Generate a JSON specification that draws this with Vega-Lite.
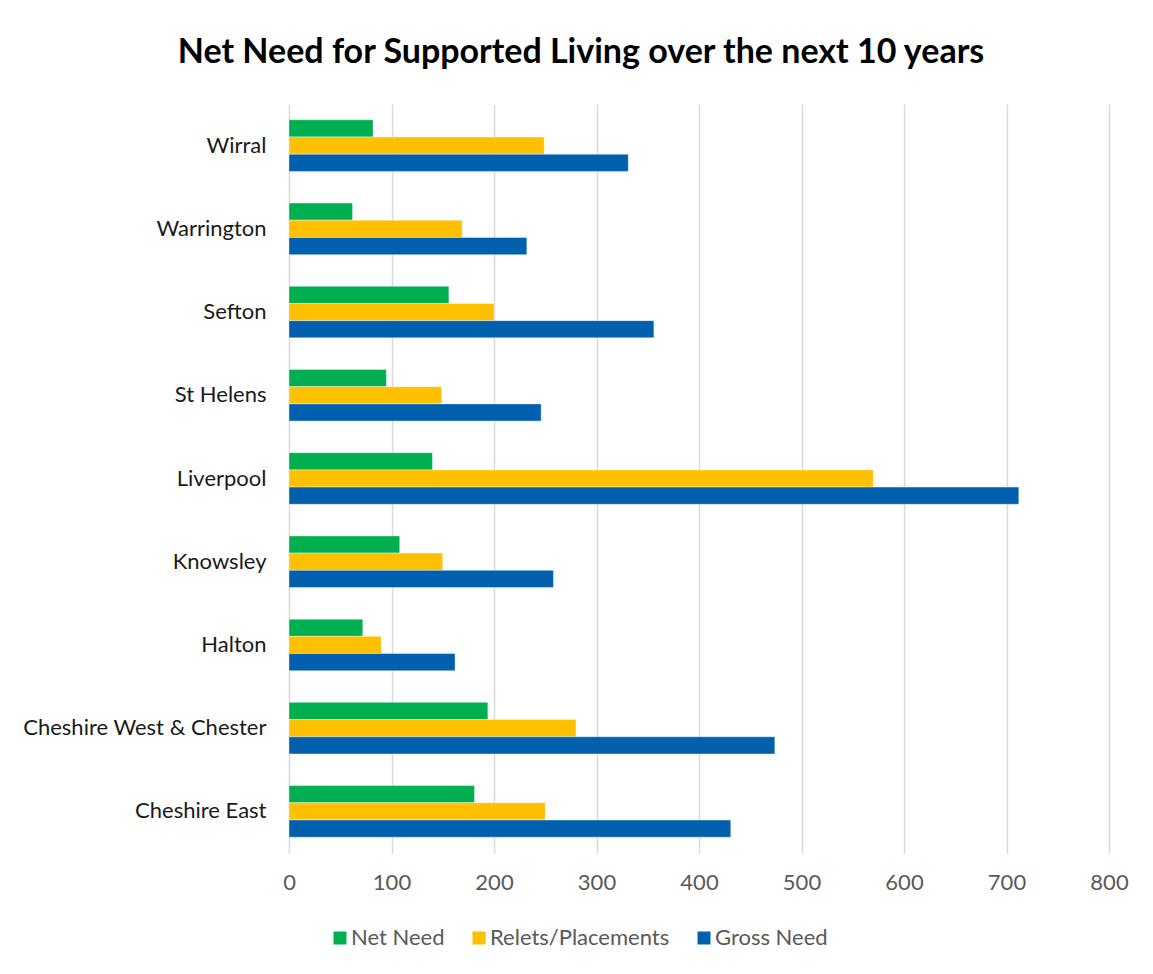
{
  "$schema": "https://vega.github.io/schema/vega-lite/v6.json",
  "autosize": {"type": "none"},
  "width": 820,
  "height": 749,
  "padding": {"left": 289, "top": 104, "right": 44, "bottom": 121},
  "background": "white",
  "title": {
    "text": "Net Need for Supported Living over the next 10 years",
    "fontSize": 34,
    "font": "Lato",
    "fontWeight": "bold",
    "color": "#000000",
    "anchor": "middle",
    "dx": -118,
    "offset": 34
  },
  "data": {
    "values": [
      {"area": "Wirral", "series": "Net Need", "value": 82},
      {"area": "Wirral", "series": "Relets/Placements", "value": 249},
      {"area": "Wirral", "series": "Gross Need", "value": 331},
      {"area": "Warrington", "series": "Net Need", "value": 62},
      {"area": "Warrington", "series": "Relets/Placements", "value": 169},
      {"area": "Warrington", "series": "Gross Need", "value": 232},
      {"area": "Sefton", "series": "Net Need", "value": 156},
      {"area": "Sefton", "series": "Relets/Placements", "value": 200},
      {"area": "Sefton", "series": "Gross Need", "value": 356},
      {"area": "St Helens", "series": "Net Need", "value": 95},
      {"area": "St Helens", "series": "Relets/Placements", "value": 149},
      {"area": "St Helens", "series": "Gross Need", "value": 246},
      {"area": "Liverpool", "series": "Net Need", "value": 140},
      {"area": "Liverpool", "series": "Relets/Placements", "value": 570},
      {"area": "Liverpool", "series": "Gross Need", "value": 712},
      {"area": "Knowsley", "series": "Net Need", "value": 108},
      {"area": "Knowsley", "series": "Relets/Placements", "value": 150},
      {"area": "Knowsley", "series": "Gross Need", "value": 258},
      {"area": "Halton", "series": "Net Need", "value": 72},
      {"area": "Halton", "series": "Relets/Placements", "value": 90},
      {"area": "Halton", "series": "Gross Need", "value": 162},
      {"area": "Cheshire West & Chester", "series": "Net Need", "value": 194},
      {"area": "Cheshire West & Chester", "series": "Relets/Placements", "value": 280},
      {"area": "Cheshire West & Chester", "series": "Gross Need", "value": 474},
      {"area": "Cheshire East", "series": "Net Need", "value": 181},
      {"area": "Cheshire East", "series": "Relets/Placements", "value": 250},
      {"area": "Cheshire East", "series": "Gross Need", "value": 431}
    ]
  },
  "mark": {"type": "bar", "stroke": "white", "strokeOpacity": 0.4, "strokeWidth": 1},
  "encoding": {
    "y": {
      "field": "area",
      "type": "nominal",
      "sort": ["Wirral", "Warrington", "Sefton", "St Helens", "Liverpool", "Knowsley", "Halton", "Cheshire West & Chester", "Cheshire East"],
      "scale": {"paddingInner": 0.38, "paddingOuter": 0.19},
      "axis": {
        "title": null,
        "domain": false,
        "ticks": false,
        "labelFont": "Lato",
        "labelFontSize": 22,
        "labelColor": "#1a1a1a",
        "labelPadding": 23,
        "labelLimit": 400
      }
    },
    "yOffset": {
      "field": "series",
      "type": "nominal",
      "sort": ["Net Need", "Relets/Placements", "Gross Need"],
      "scale": {"paddingInner": 0, "paddingOuter": 0}
    },
    "x": {
      "field": "value",
      "type": "quantitative",
      "scale": {"domain": [0, 800], "nice": false},
      "axis": {
        "title": null,
        "values": [0, 100, 200, 300, 400, 500, 600, 700, 800],
        "domain": false,
        "ticks": false,
        "grid": true,
        "gridColor": "#d9d9d9",
        "gridWidth": 1.5,
        "labelFont": "Lato",
        "labelFontSize": 22,
        "labelColor": "#595959",
        "labelPadding": 19,
        "labelFlush": false
      }
    },
    "color": {
      "field": "series",
      "type": "nominal",
      "sort": ["Net Need", "Relets/Placements", "Gross Need"],
      "scale": {
        "domain": ["Net Need", "Relets/Placements", "Gross Need"],
        "range": ["#00B050", "#FFC000", "#0060AD"]
      },
      "legend": {
        "title": null,
        "orient": "none",
        "direction": "horizontal",
        "legendX": 40,
        "legendY": 823,
        "symbolType": "square",
        "symbolSize": 169,
        "symbolStrokeWidth": 0,
        "symbolOpacity": 1,
        "labelFont": "Lato",
        "labelFontSize": 22,
        "labelColor": "#595959",
        "labelLimit": 0,
        "columnPadding": 23,
        "labelOffset": 0
      }
    }
  },
  "config": {
    "view": {"stroke": null}
  }
}
